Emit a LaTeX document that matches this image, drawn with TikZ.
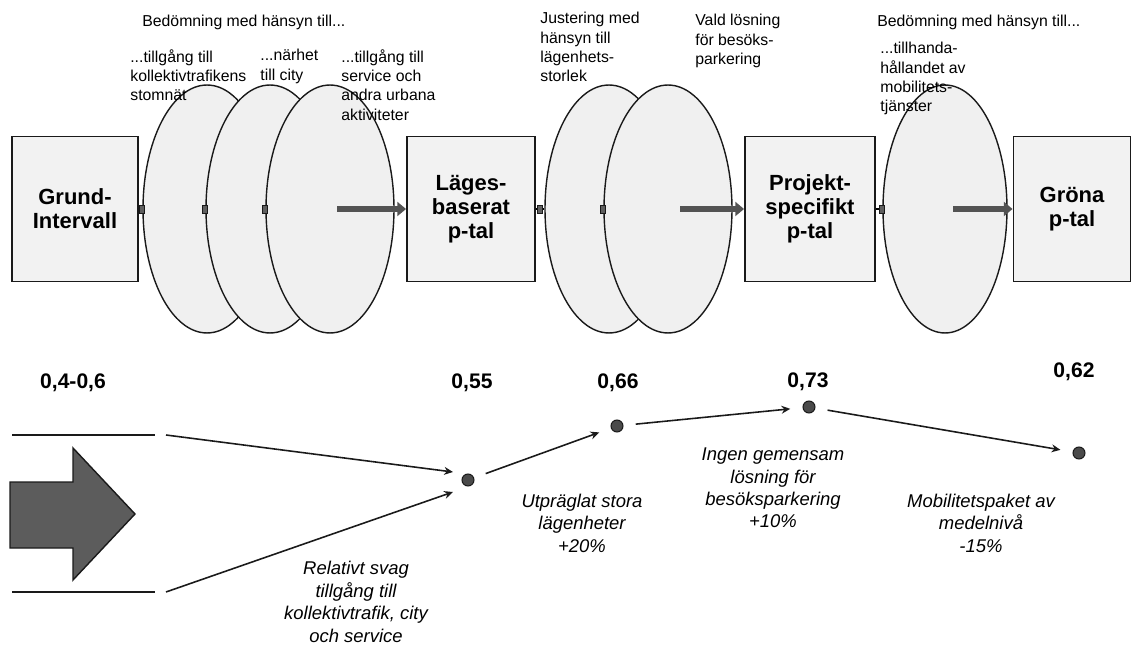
\documentclass[tikz,border=0pt]{standalone}
\usepackage{fontspec}
\setmainfont{Liberation Sans}
\usetikzlibrary{arrows.meta,positioning,shapes.geometric,calc}
\definecolor{ink}{HTML}{1A1A1A}
\definecolor{boxfill}{HTML}{F2F2F2}
\definecolor{lensfill}{HTML}{F0F0F0}
\definecolor{dotfill}{HTML}{4A4A4A}
\definecolor{bigarrow}{HTML}{5C5C5C}
\tikzset{
  pbox/.style={draw=ink,fill=boxfill,line width=1.1pt,rounded corners=0pt,
               minimum width=2.56cm,minimum height=2.9cm,align=center,inner sep=2pt,
               font=\bfseries\fontsize{12.5}{13.5}\selectfont},
  lens/.style={ellipse,draw=ink,fill=lensfill,line width=0.8pt,
               minimum width=2.56cm,minimum height=4.96cm,inner sep=0pt},
  port/.style={draw=ink,fill=ink!70,minimum width=0.1cm,minimum height=0.16cm,
               inner sep=0pt},
  fatarr/.style={-{Triangle[length=5pt,width=8pt]},line width=3.5pt,draw=ink!75},
  arr/.style={-{Stealth[length=5pt,width=4.5pt]},line width=0.9pt,draw=ink,
              shorten <=7pt,shorten >=7pt},
  rangeline/.style={line width=1pt,draw=ink},
  bigarr/.style={draw=ink,fill=bigarrow,line width=0.8pt},
  pdot/.style={circle,draw=ink,fill=dotfill,line width=0.6pt,
               minimum size=0.24cm,inner sep=0pt},
  val/.style={font=\bfseries\fontsize{12}{14}\selectfont},
  note/.style={anchor=north west,align=left,inner sep=0pt,
               font=\fontsize{9}{11}\selectfont},
  effect/.style={align=center,inner sep=0pt,
                 font=\itshape\fontsize{10.5}{12.8}\selectfont}
}
\begin{document}
\begin{tikzpicture}[x=0.02cm,y=-0.02cm]
    \path[use as bounding box] (0,0) rectangle (1136,648);
    \node[lens] (e1) at (207,209) {};
    \node[lens] (e2) at (270,209) {};
    \node[lens] (e3) at (330,209) {};
    \node[lens] (e4) at (609,209) {};
    \node[lens] (e5) at (668,209) {};
    \node[lens,minimum width=2.48cm] (e6) at (945,209) {};
    \node[pbox,minimum width=2.52cm] (grund) at (75,209) {Grund-\\Intervall};
    \node[pbox] (lages) at (471,209) {Läges-\\baserat\\p-tal};
    \node[pbox,minimum width=2.6cm] (projekt) at (810,209) {Projekt-\\specifikt\\p-tal};
    \node[pbox,minimum width=2.34cm] (grona) at (1072,209) {Gröna\\p-tal};
    \draw[line width=1pt] (grund.east) -- (e1.west);
    \draw[line width=1pt] (lages.east) -- (e4.west);
    \draw[line width=1pt] (projekt.east) -- (e6.west);
    \node[port] (p1) at (e1.west) {};
    \node[port] (p2) at (e2.west) {};
    \node[port] (p3) at (e3.west) {};
    \node[port] (p4) at ($(lages.east)!0.5!(e4.west)$) {};
    \node[port] (p5) at (e5.west) {};
    \node[port] (p6) at (e6.west) {};
    \draw[fatarr] ($(e3.center)+(7,0)$) -- (lages.west);
    \draw[fatarr] ($(e5.center)+(12,0)$) -- (projekt.west);
    \draw[fatarr] ($(e6.center)+(8,0)$) -- (grona.west);
    \node[note,anchor=west] (head1) at (142,22) {Bedömning med hänsyn till...};
    \node[note] (t1) at (130,49) {...tillgång till\\kollektivtrafikens\\stomnät};
    \node[note] (t2) at (260,49) {...närhet\\till city};
    \node[note] (t3) at (341,49) {...tillgång till\\service och\\andra urbana\\aktiviteter};
    \node[note] (t4) at (540,12) {Justering med\\hänsyn till\\lägenhets-\\storlek};
    \node[note] (t5) at (695,14) {Vald lösning\\för besöks-\\parkering};
    \node[note,anchor=west] (head2) at (877,22) {Bedömning med hänsyn till...};
    \node[note] (t6) at (880,42) {...tillhanda-\\hållandet av\\mobilitets-\\tjänster};
    \node[val] (v0) at (73,383) {0,4-0,6};
    \node[val] (v55) at (472,383) {0,55};
    \node[val] (v66) at (618,383) {0,66};
    \node[val] (v73) at (808,382) {0,73};
    \node[val] (v62) at (1074,372) {0,62};
    \draw[bigarr] (10,482) -- (73,482) -- (73,448) -- (135,514) -- (73,580)
      -- (73,548) -- (10,548) -- cycle;
    \coordinate (tl) at (12,435);
    \coordinate (tr) at (155,435);
    \coordinate (bl) at (12,592);
    \coordinate (br) at (155,592);
    \coordinate (tin) at (166,435);
    \coordinate (bin) at (166,592);
    \draw[rangeline] (tl) -- (tr);
    \draw[rangeline] (bl) -- (br);
    \node[pdot] (d55) at (468,480) {};
    \node[pdot] (d66) at (617,426) {};
    \node[pdot] (d73) at (809,407) {};
    \node[pdot] (d62) at (1079,453) {};
    \draw[arr,shorten <=0pt,shorten >=0pt] (tin) -- ($(d55)+(-15,-8)$);
    \draw[arr,shorten <=0pt,shorten >=0pt] (bin) -- ($(d55)+(-15,12)$);
    \draw[arr] (d55) -- (d66);
    \draw[arr] (d66) -- (d73);
    \draw[arr] (d73) -- (d62);
    \node[effect] (f1) at (356,602) {Relativt svag\\tillgång till\\kollektivtrafik, city\\och service};
    \node[effect] (f2) at (582,523) {Utpräglat stora\\lägenheter\\+20\%};
    \node[effect] (f3) at (773,488) {Ingen gemensam\\lösning för\\besöksparkering\\+10\%};
    \node[effect] (f4) at (981,523) {Mobilitetspaket av\\medelnivå\\-15\%};
  \end{tikzpicture}
\end{document}
